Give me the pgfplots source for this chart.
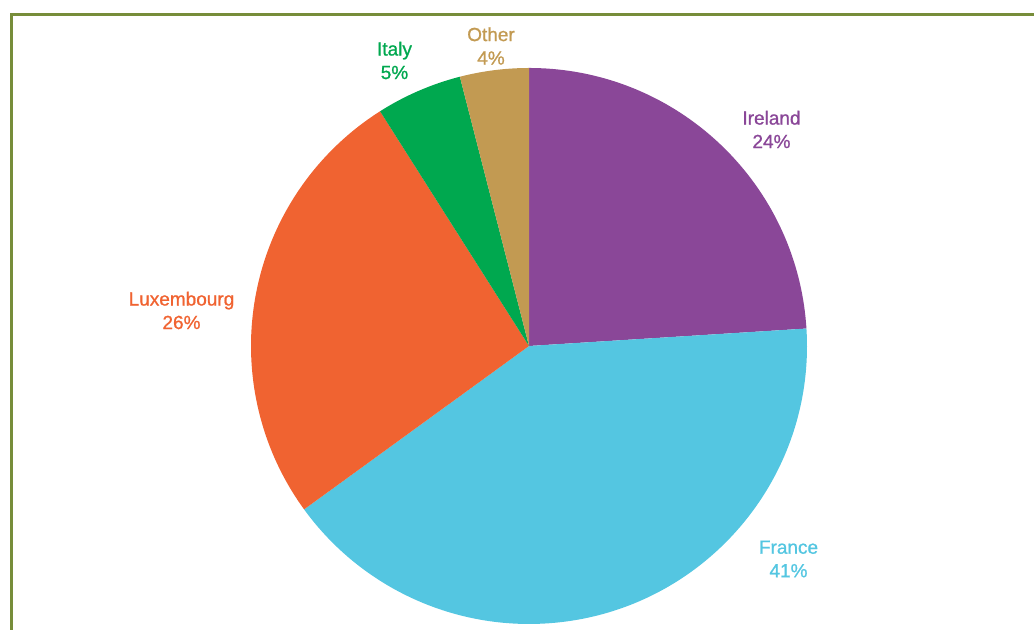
\documentclass[border=0pt]{standalone}
\usepackage{pgfplots}
\pgfplotsset{compat=1.18}
\usepackage{fontspec}
\setmainfont{Liberation Sans}
\newfontfamily\labfont[FakeBold=1]{Liberation Sans}
\definecolor{cIre}{HTML}{8A4798}
\definecolor{cFra}{HTML}{54C6E1}
\definecolor{cLux}{HTML}{F06331}
\definecolor{cIta}{HTML}{00A84F}
\definecolor{cOth}{HTML}{C29A52}
\definecolor{cFrame}{HTML}{778D3A}
\begin{document}
\begin{tikzpicture}
\begin{axis}[width=517pt,height=315pt,scale only axis,
  xmin=0,xmax=1034,ymin=0,ymax=630,hide axis,clip=false]
\addplot[draw=none] coordinates {(0,0) (1034,630)};
\coordinate (SW) at (axis cs:0,0);
\coordinate (NE) at (axis cs:1034,630);
\xdef\acc{90}
\foreach \v/\c in {24/cIre,41/cFra,26/cLux,5/cIta,4/cOth}{
  \pgfmathsetmacro\e{\acc-3.6*\v}
  \edef\next{\noexpand\fill[\c] (axis cs:529,284) -- ++(\acc:139pt) arc[start angle=\acc,end angle=\e,radius=139pt] -- cycle;}
  \next
  \xdef\acc{\e}
}
\draw[cFrame, line width=1.1pt] (axis cs:11.5,0) -- (axis cs:11.5,615.5) -- (axis cs:1034,615.5);
\tikzset{lab/.style={align=center,font=\labfont\fontsize{9.5}{11.75}\selectfont}}
\node[lab,text=cIre] at (axis cs:771.5,500.5) {Ireland\\24\%};
\node[lab,text=cFra] at (axis cs:788.5,71) {France\\41\%};
\node[lab,text=cLux] at (axis cs:181.5,319.5) {Luxembourg\\26\%};
\node[lab,text=cIta] at (axis cs:394.5,569.5) {Italy\\5\%};
\node[lab,text=cOth] at (axis cs:491,584) {Other\\4\%};
\end{axis}
\pgfresetboundingbox
\useasboundingbox (SW) rectangle (NE);
\end{tikzpicture}
\end{document}
